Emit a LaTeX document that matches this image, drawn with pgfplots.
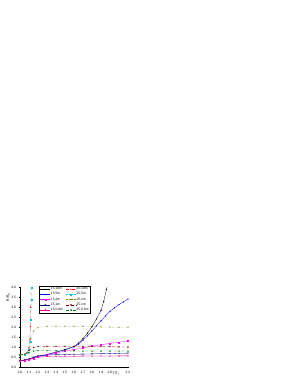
\documentclass[border=0pt]{standalone}
\usepackage{pgfplots}
\pgfplotsset{compat=1.18}
\usepackage{fontspec}
\setmainfont{Liberation Sans}
\definecolor{cblue}{RGB}{0,0,255}
\definecolor{cmag}{RGB}{255,0,255}
\definecolor{cnavy}{RGB}{0,0,128}
\definecolor{cpink}{RGB}{255,0,128}
\definecolor{cred}{RGB}{255,0,0}
\definecolor{ccyan}{RGB}{0,200,210}
\definecolor{colive}{RGB}{128,128,0}
\definecolor{cwine}{RGB}{128,0,0}
\definecolor{cgreen}{RGB}{0,128,0}
\begin{document}
\begin{tikzpicture}
\path[use as bounding box] (0,0) rectangle (299bp,387bp);
\begin{axis}[
  at={(20bp,20bp)}, anchor=south west,
  scale only axis, width=108bp, height=79.5bp,
  xmin=1.0, xmax=2.2, ymin=0, ymax=4.0,
  axis lines=left, axis line style={-, line width=0.4pt},
  xtick={1.0,1.1,...,2.25},
  xticklabels={1.0,1.1,1.2,1.3,1.4,1.5,1.6,1.7,1.8,1.9,2.0,,2.2},
  ytick={0,0.5,...,4.0},
  yticklabel style={/pgf/number format/fixed,/pgf/number format/fixed zerofill,/pgf/number format/precision=1},
  /pgf/number format/assume math mode=true,
  tick align=outside, major tick length=1.2bp,
  tick style={line width=0.3pt, black},
  ticklabel style={font=\fontsize{3.3}{3.8}\selectfont},
  xticklabel style={yshift=0.6bp},
  yticklabel style={xshift=0.6bp},
  xlabel={T/T$_\mathrm{c}$},
  xlabel style={font=\fontsize{3.5}{4}\selectfont, at={(axis description cs:0.89,0)}, anchor=north, yshift=-1.3bp},
  ylabel={B/B$_\mathrm{m}$},
  ylabel style={font=\fontsize{3.5}{4}\selectfont, at={(axis description cs:-0.11,0.88)}, anchor=center},
  legend columns=2,
  legend style={at={(axis description cs:0.176,1.02)}, anchor=north west,
    font=\fontsize{3.3}{3.6}\selectfont, draw=black, line width=0.3pt,
    inner sep=1bp, row sep=0.3bp, column sep=0pt,
    nodes={inner sep=0.5bp},
    /tikz/every even column/.append style={column sep=2.5bp}},
  legend image code/.code={\draw[mark repeat=2,mark phase=2,#1] plot coordinates {(0bp,0bp)(5bp,0bp)(10bp,0bp)};},
  legend cell align=left,
  every axis plot/.append style={line width=0.3pt, mark size=0.5bp},
]
% 15,10m
\addplot[black, mark=triangle*] coordinates {(1.0,0.34)(1.05,0.35)(1.1,0.40)(1.15,0.47)(1.2,0.54)(1.3,0.63)(1.4,0.75)(1.5,0.88)(1.6,1.03)(1.65,1.2)(1.7,1.43)(1.75,1.7)(1.8,2.03)(1.85,2.42)(1.9,2.85)(1.93,3.3)(1.96,3.9)(1.97,4.1)};
\addlegendentry{15,10m}
% 25,10m
\addplot[cred, dashed, mark=*, mark options={solid}] coordinates {(1.0,0.6)(1.05,0.62)(1.08,0.7)(1.1,0.9)(1.11,1.4)(1.115,2.03)(1.12,3.0)(1.125,4.2)};
\addlegendentry{25,10m}
% 15,5m
\addplot[cblue, mark=triangle*, mark options={rotate=180}] coordinates {(1.0,0.33)(1.05,0.34)(1.1,0.39)(1.15,0.46)(1.2,0.53)(1.3,0.62)(1.4,0.74)(1.5,0.87)(1.6,1.01)(1.65,1.15)(1.7,1.35)(1.75,1.57)(1.8,1.82)(1.85,2.07)(1.9,2.32)(1.95,2.57)(2.0,2.8)(2.05,2.98)(2.1,3.14)(2.15,3.28)(2.2,3.42)};
\addlegendentry{15,5m}
% 25,5m
\addplot[ccyan, densely dotted, mark=square*, mark options={solid}] coordinates {(1.0,0.6)(1.05,0.62)(1.08,0.7)(1.1,0.85)(1.115,1.3)(1.12,2.4)(1.125,3.4)(1.13,4.0)(1.132,4.3)};
\addlegendentry{25,5m}
% 15,2m
\addplot[cmag, mark=square*] coordinates {(1.0,0.33)(1.05,0.34)(1.1,0.38)(1.15,0.44)(1.2,0.5)(1.3,0.6)(1.4,0.7)(1.5,0.8)(1.6,0.88)(1.7,0.96)(1.8,1.05)(1.9,1.12)(2.0,1.19)(2.1,1.25)(2.2,1.31)};
\addlegendentry{15,2m}
% 25,2m
\addplot[colive, densely dotted, mark=triangle*, mark options={solid}] coordinates {(1.0,0.6)(1.05,0.63)(1.08,0.75)(1.1,1.0)(1.12,1.45)(1.15,1.8)(1.2,1.98)(1.3,2.05)(1.4,2.05)(1.5,2.05)(1.6,2.04)(1.7,2.04)(1.8,2.03)(1.9,2.02)(2.0,2.01)(2.1,2.0)(2.2,2.0)};
\addlegendentry{25,2m}
% 15,1m
\addplot[cnavy, mark=triangle*, mark options={rotate=180}] coordinates {(1.0,0.33)(1.05,0.34)(1.1,0.4)(1.15,0.5)(1.2,0.56)(1.3,0.6)(1.4,0.62)(1.5,0.63)(1.6,0.64)(1.7,0.65)(1.8,0.66)(1.9,0.67)(2.0,0.68)(2.1,0.69)(2.2,0.7)};
\addlegendentry{15,1m}
% 25,1m
\addplot[cwine, densely dashed, mark=*, mark options={solid}] coordinates {(1.0,0.6)(1.05,0.64)(1.1,0.82)(1.15,0.98)(1.2,1.03)(1.3,1.04)(1.4,1.04)(1.5,1.04)(1.6,1.04)(1.7,1.03)(1.8,1.03)(1.9,1.02)(2.0,1.02)(2.1,1.01)(2.2,1.0)};
\addlegendentry{25,1m}
% 15,0.8m
\addplot[cpink, mark=diamond*] coordinates {(1.0,0.32)(1.05,0.33)(1.1,0.37)(1.15,0.44)(1.2,0.49)(1.3,0.52)(1.4,0.53)(1.5,0.54)(1.6,0.54)(1.7,0.55)(1.8,0.55)(1.9,0.55)(2.0,0.55)(2.1,0.56)(2.2,0.56)};
\addlegendentry{15,0.8m}
% 25,0.8m
\addplot[cgreen, dash dot, mark=*, mark options={solid}] coordinates {(1.0,0.6)(1.05,0.63)(1.1,0.72)(1.15,0.8)(1.2,0.82)(1.3,0.82)(1.4,0.82)(1.5,0.81)(1.6,0.81)(1.7,0.8)(1.8,0.8)(1.9,0.8)(2.0,0.8)(2.1,0.8)(2.2,0.8)};
\addlegendentry{25,0.8m}
\end{axis}
\end{tikzpicture}
\end{document}
